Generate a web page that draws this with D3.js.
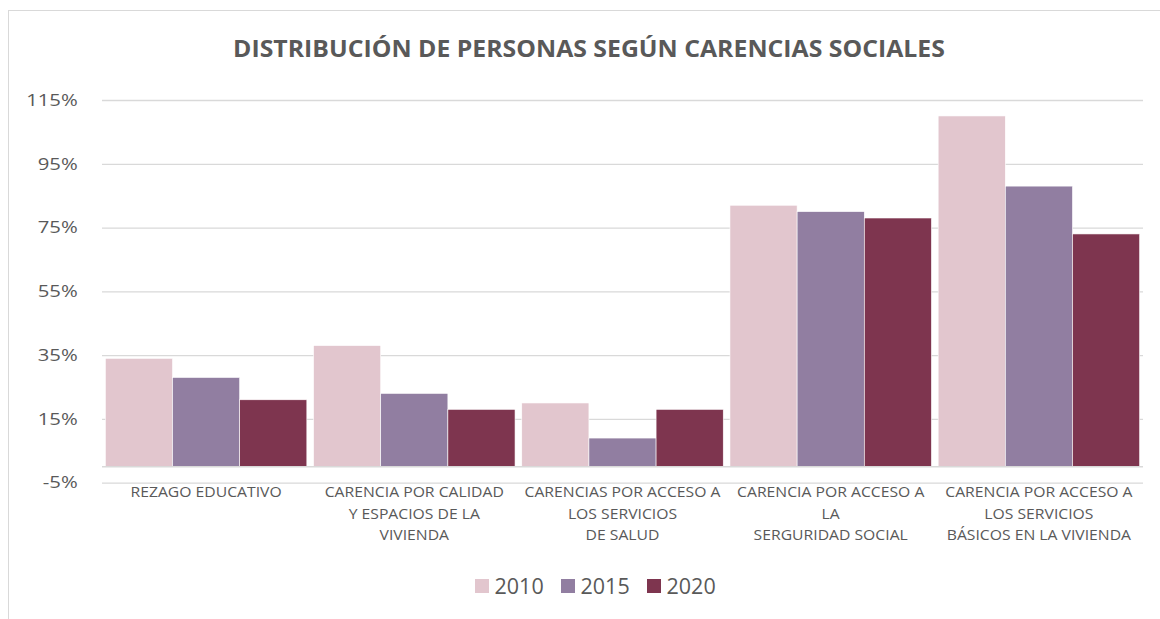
<!DOCTYPE html>
<html>
<head>
<meta charset="utf-8">
<script src="https://cdn.jsdelivr.net/npm/d3@7"></script>
<style>
  html, body { margin: 0; padding: 0; background: #fff; }
  svg { display: block; }
  text { font-family: "Open Sans", "Noto Sans", sans-serif; fill: #595959; }
</style>
</head>
<body>
<svg id="chart" width="1160" height="619"></svg>
<script>
// Categories (each label split into its display lines)
const categories = [
  ["REZAGO EDUCATIVO"],
  ["CARENCIA POR CALIDAD", "Y ESPACIOS DE LA", "VIVIENDA"],
  ["CARENCIAS POR ACCESO A", "LOS SERVICIOS", "DE SALUD"],
  ["CARENCIA POR ACCESO A", "LA", "SERGURIDAD SOCIAL"],
  ["CARENCIA POR ACCESO A", "LOS SERVICIOS", "BÁSICOS EN LA VIVIENDA"]
];
const years = ["2010", "2015", "2020"];

// Percent of people per category, by year
const values2010 = [34, 38, 20, 82, 110];
const values2015 = [28, 23, 9, 80, 88];
const values2020 = [21, 18, 18, 78, 73];

const yTicks = [-5, 15, 35, 55, 75, 95, 115];
const colors = ["#E2C6CE", "#917EA1", "#7E354F"];
const title = "DISTRIBUCIÓN DE PERSONAS SEGÚN CARENCIAS SOCIALES";

const series = [values2010, values2015, values2020];
const catKeys = categories.map(c => c.join(" "));

// Widen text horizontally about a fixed anchor x
function widen(sel, sx, ax) {
  sel.attr("transform", `translate(${ax},0) scale(${sx},1) translate(${-ax},0)`);
}

const svg = d3.select("#chart");

// Chart frame
svg.append("rect")
  .attr("x", 8.5).attr("y", 10.5)
  .attr("width", 1200).attr("height", 700)
  .attr("fill", "#fff")
  .attr("stroke", "#d9d9d9").attr("stroke-width", 1);

const plot = { left: 102, right: 1143, top: 100, bottom: 482.7 };

const y = d3.scaleLinear().domain([-5, 115]).range([plot.bottom, plot.top]);
const gap = 0.1 / 3.1;
const x0 = d3.scaleBand().domain(catKeys).range([plot.left, plot.right])
  .paddingInner(gap).paddingOuter(gap / 2);
const x1 = d3.scaleBand().domain(years).range([0, x0.bandwidth()]);

// Title
svg.append("text")
  .attr("x", 589).attr("y", 57)
  .attr("text-anchor", "middle")
  .style("font-size", "23.4px").style("font-weight", "700")
  .text(title)
  .call(widen, 1.06, 589);

// Gridlines and y tick labels
const labelX = -24.3;
const yAxis = d3.axisLeft(y).tickValues(yTicks)
  .tickSize(-(plot.right - plot.left)).tickPadding(0)
  .tickFormat(d => d + "%");
const gy = svg.append("g").attr("transform", `translate(${plot.left},0)`).call(yAxis);
gy.select(".domain").remove();
gy.selectAll(".tick line").attr("stroke", "#d9d9d9").attr("stroke-width", 1.3);
gy.selectAll(".tick text")
  .attr("x", labelX)
  .style("font-size", "16.5px").attr("fill", "#595959")
  .style("font-family", "'Open Sans', sans-serif")
  .call(widen, 1.23, labelX);

// Bars
const groups = svg.append("g").selectAll("g")
  .data(catKeys).join("g")
  .attr("transform", d => `translate(${x0(d)},0)`);
groups.selectAll("rect")
  .data((d, i) => years.map((yr, j) => ({ year: yr, value: series[j][i], color: colors[j] })))
  .join("rect")
  .attr("x", d => x1(d.year))
  .attr("width", x1.bandwidth())
  .attr("y", d => y(Math.max(0, d.value)))
  .attr("height", d => Math.abs(y(d.value) - y(0)))
  .attr("fill", d => d.color)
  .attr("stroke", "#fff").attr("stroke-width", 0.6);

// Horizontal axis at zero
svg.append("line")
  .attr("x1", plot.left).attr("x2", plot.right)
  .attr("y1", y(0)).attr("y2", y(0))
  .attr("stroke", "#d9d9d9").attr("stroke-width", 1.3);

// Category labels
const labels = svg.append("g").selectAll("text")
  .data(categories).join("text")
  .attr("text-anchor", "middle")
  .attr("x", (d, i) => x0(catKeys[i]) + x0.bandwidth() / 2)
  .attr("y", 497.5)
  .style("font-size", "14.7px");
labels.each(function (d, i) {
  const cx = x0(catKeys[i]) + x0.bandwidth() / 2;
  d3.select(this).call(widen, 1.07, cx);
});
labels.selectAll("tspan")
  .data(d => d).join("tspan")
  .attr("x", function () { return this.parentNode.getAttribute("x"); })
  .attr("dy", (d, i) => i === 0 ? 0 : 21.5)
  .text(d => d);

// Legend
const legendX = [475, 561, 647];
const legend = svg.append("g").selectAll("g")
  .data(years).join("g")
  .attr("transform", (d, i) => `translate(${legendX[i]},579)`);
legend.append("rect")
  .attr("width", 14).attr("height", 14)
  .attr("fill", (d, i) => colors[i]);
legend.append("text")
  .attr("x", 19.5).attr("y", 14.5)
  .style("font-size", "21.5px")
  .text(d => d);
</script>
</body>
</html>
